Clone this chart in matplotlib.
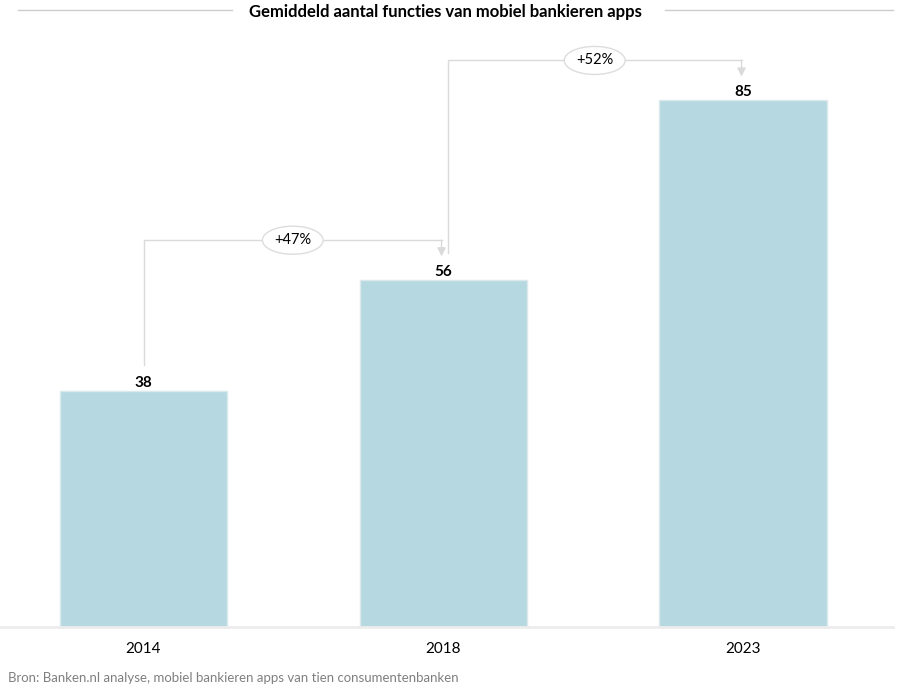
import matplotlib.pyplot as plt
from matplotlib.lines import Line2D

# data
years = ['2014', '2018', '2023']
values = [38, 56, 85]
growth = ['+47%', '+52%']

title = 'Gemiddeld aantal functies van mobiel bankieren apps'
source = 'Bron: Banken.nl analyse, mobiel bankieren apps van tien consumentenbanken'

plt.rcParams['font.family'] = ['Lato', 'DejaVu Sans']

W, H = 900, 689
fig = plt.figure(figsize=(W / 100, H / 100), dpi=100)
ax = fig.add_axes([0, 62 / H, 893 / W, (627 - 40) / H])

x = list(range(len(years)))
ax.bar(x, values, width=0.557, color='#b6d8e0', edgecolor='#dbe9ec', linewidth=1)
for xi, v in zip(x, values):
    ax.text(xi, v + 1.3, str(v), ha='center', va='center',
            fontsize=11, fontweight='bold', color='black')

ax.set_xlim(-0.477, 2.5)
ax.set_ylim(0, 94.7)
ax.set_xticks(x)
ax.set_xticklabels(years, fontsize=11)
ax.tick_params(axis='x', length=0, pad=11)
ax.set_yticks([])
for s in ['top', 'right', 'left']:
    ax.spines[s].set_visible(False)
ax.spines['bottom'].set_color('#ececec')
ax.spines['bottom'].set_linewidth(2)

# growth connectors
lc = '#dadada'
offs = [0.003, 0.016]
for i, lab in enumerate(growth):
    x0 = i + offs[i]
    x1 = i + 1 - 0.005
    y0 = values[i] + 4.3
    ytop = values[i + 1] + 6.4
    ax.plot([x0, x0, x1], [y0, ytop, ytop], color=lc, lw=1,
            solid_joinstyle='miter', zorder=1)
    ax.annotate('', xy=(x1, values[i + 1] + 3.8), xytext=(x1, ytop),
                arrowprops=dict(arrowstyle='-|>,head_length=0.5,head_width=0.25',
                                color=lc, lw=1, shrinkA=0, shrinkB=0))
    ax.text((x0 + x1) / 2, ytop, lab, ha='center', va='center', fontsize=10.5,
            bbox=dict(boxstyle='ellipse,pad=0.2', fc='white', ec='#dddddd', lw=1),
            zorder=3)

# title with side rules
fig.text(445 / W, 1 - 12 / H, title, ha='center', va='center',
         fontsize=12, fontweight='bold')
fig.add_artist(Line2D([18 / W, 232 / W], [1 - 10 / H] * 2, color='#cccccc', lw=1))
fig.add_artist(Line2D([665 / W, 893 / W], [1 - 10 / H] * 2, color='#cccccc', lw=1))

fig.text(8 / W, 1 - 678 / H, source, ha='left', va='center',
         fontsize=9.5, color='#808080')

fig.savefig('out.png', dpi=100, facecolor='white')
